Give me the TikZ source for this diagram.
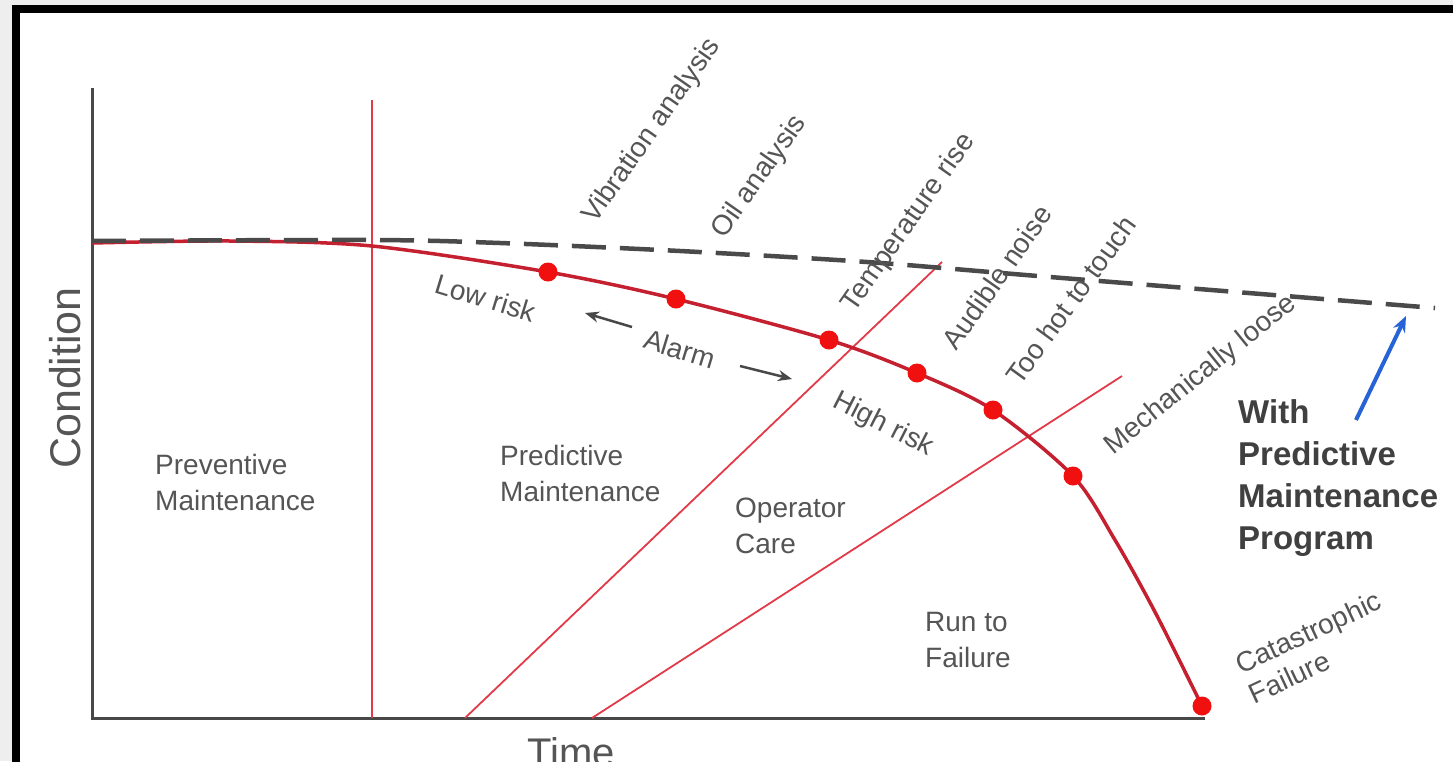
\documentclass[tikz,border=0pt]{standalone}
\usepackage{fontspec}
\setmainfont{Liberation Sans}
\usetikzlibrary{arrows.meta}
\definecolor{framegray}{HTML}{EEEEEE}
\definecolor{labelgray}{HTML}{555555}
\definecolor{boldgray}{HTML}{404040}
\definecolor{axisgray}{HTML}{484848}
\definecolor{dashgray}{HTML}{4A4A4A}
\definecolor{wearred}{HTML}{C42030}
\definecolor{bandred}{HTML}{E23A48}
\definecolor{dotred}{HTML}{F01010}
\definecolor{arrowblue}{HTML}{2563D6}
\begin{document}
\begin{tikzpicture}[x=1pt, y=-1pt,
	every node/.style = {inner sep=0pt, text=labelgray},
	zone/.style = {font=\fontsize{28}{36}\selectfont, align=left, anchor=west},
	sign/.style = {font=\fontsize{28}{33}\selectfont, rotate=#1},
	dot/.style = {circle, fill=dotred, minimum size=19pt},
	band/.style = {draw=bandred, line width=1.8pt},
	axis/.style = {draw=axisgray, line width=3pt},
	]
	\useasboundingbox (0,0) rectangle (1453,761);
	\clip (0,0) rectangle (1453,761);
	% frame
	\fill[framegray] (0,0) rectangle (1453,761);
	\fill[white] (16,9) rectangle (1453,761);
	\draw[line width=8pt] (16,770) -- (16,9) -- (1460,9);
	% axes
	\coordinate (origin) at (92,718);
	\coordinate (ytop) at (92,88);
	\coordinate (xend) at (1205,718);
	\draw[axis] (ytop) -- (origin) -- (xend);
	\node[font=\fontsize{43}{50}\selectfont, rotate=90] (cond) at (65,378) {Condition};
	\node[font=\fontsize{40}{48}\selectfont, anchor=north] (time) at (571,737) {Time};
	% zone borders
	\coordinate (splitTop) at (372,100);
	\coordinate (splitBot) at (372,718);
	\coordinate (bandA0) at (465,718);
	\coordinate (bandA1) at (942,262);
	\coordinate (bandB0) at (592,718);
	\coordinate (bandB1) at (1122,376);
	\draw[band] (splitTop) -- (splitBot);
	\draw[band] (bandA0) -- (bandA1);
	\draw[band] (bandB0) -- (bandB1);
	% condition curves
	\foreach \n/\px/\py in {1/548/272, 2/676/299, 3/829/340, 4/917/373, 5/993/410, 6/1073/476, 7/1202/706}
		\coordinate (p\n) at (\px,\py);
	\draw[wearred, line width=3.5pt] plot[smooth, tension=0.5] coordinates {(92,243) (230,241) (372,246) (p1) (p2) (p3) (p4) (p5) (p6) (1115,540) (1155,612) (p7)};
	\draw[dashgray, line width=4.5pt, dash pattern=on 34pt off 14pt] plot[smooth] coordinates {(92,241) (372,240) (500,243) (680,251) (867,262) (1050,277) (1435,308)};
	\foreach \n in {1,...,7}
		\node[dot] (dot\n) at (p\n) {};
	% zones
	\node[zone] (prev) at (155,482) {Preventive\\Maintenance};
	\node[zone] (pred) at (500,473) {Predictive\\Maintenance};
	\node[zone] (oper) at (735,526) {Operator\\Care};
	\node[zone] (run) at (925,640) {Run to\\Failure};
	% warning signs
	\node[sign=55] (vib) at (652,131) {Vibration analysis};
	\node[sign=55] (oil) at (760,177) {Oil analysis};
	\node[sign=55] (temp) at (909,223) {Temperature rise};
	\node[sign=55] (noise) at (997,277) {Audible noise};
	\node[sign=54] (hot) at (1071,300) {Too hot to touch};
	\node[sign=39] (loose) at (1201,375) {Mechanically loose};
	\node[sign=25, align=left] (cata) at (1315,647) {Catastrophic\\Failure};
	\node[sign=-17] (low) at (486,298) {Low risk};
	\node[sign=-17] (alarm) at (680,349) {Alarm};
	\node[sign=-27] (high) at (883,425) {High risk};
	\coordinate (lowTail) at (632,327);
	\coordinate (lowTip) at (585,313);
	\coordinate (highTail) at (740,366);
	\coordinate (highTip) at (792,379);
	\draw[axisgray, line width=2.5pt, -{Stealth[length=14pt, width=11pt]}] (lowTail) -- (lowTip);
	\draw[axisgray, line width=2.5pt, -{Stealth[length=14pt, width=11pt]}] (highTail) -- (highTip);
	% program note
	\node[font=\fontsize{33}{42}\selectfont\bfseries, text=boldgray, align=left, anchor=west] (note) at (1238,478) {With\\Predictive\\Maintenance\\Program};
	\coordinate (noteTail) at (1356,420);
	\coordinate (noteTip) at (1406,316);
	\draw[arrowblue, line width=4pt, -{Stealth[length=16pt, width=13pt]}] (noteTail) -- (noteTip);
\end{tikzpicture}
\end{document}
